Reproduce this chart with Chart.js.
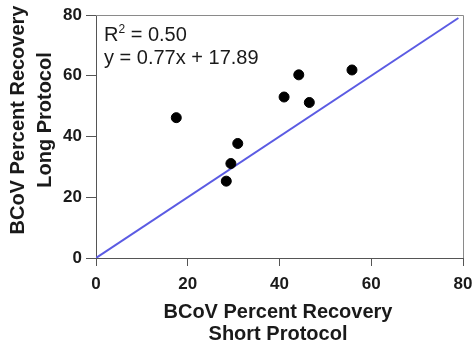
<!DOCTYPE html>
<html><head><meta charset="utf-8">
<script src="https://cdn.jsdelivr.net/npm/chart.js@4"></script>
<style>html,body{margin:0;padding:0;background:#fff}#wrap{width:473px;height:347px}</style>
</head><body><div id="wrap"><canvas id="c" width="473" height="347"></canvas></div>
<script>
const shortProtocol = [17.5, 28.4, 29.4, 30.9, 41.0, 44.2, 46.5, 55.8];
const longProtocol  = [46.2, 25.3, 31.1, 37.7, 53.0, 60.3, 51.2, 61.9];
const refLineX = [0, 79];
const refLineY = [0, 79];
const xTicks = [0, 20, 40, 60, 80];
const yTicks = [0, 20, 40, 60, 80];
const xTitle = ["BCoV Percent Recovery", "Short Protocol"];
const yTitle = ["BCoV Percent Recovery", "Long Protocol"];
const statLines = ["R", "2", " = 0.50", "y = 0.77x + 17.89"];

const FONT = "'Liberation Sans', Arial, sans-serif";
const extras = {
  id: 'extras',
  afterDraw(chart) {
    const ctx = chart.ctx, a = chart.chartArea;
    ctx.save();
    ctx.strokeStyle = '#8a8a8a'; ctx.lineWidth = 1;
    ctx.beginPath();
    ctx.moveTo(a.left, a.top + 0.5); ctx.lineTo(a.right + 0.5, a.top + 0.5); ctx.lineTo(a.right + 0.5, a.bottom);
    ctx.stroke();
    ctx.fillStyle = '#1a1a1a';
    ctx.font = '20px ' + FONT; ctx.textBaseline = 'alphabetic'; ctx.textAlign = 'left';
    let x = 104;
    ctx.fillText(statLines[0], x, 41); x += ctx.measureText(statLines[0]).width;
    ctx.font = '12px ' + FONT; ctx.fillText(statLines[1], x, 33); x += ctx.measureText(statLines[1]).width;
    ctx.font = '20px ' + FONT; ctx.fillText(statLines[2], x, 41);
    ctx.fillText(statLines[3], 104, 64);
    ctx.font = 'bold 20px ' + FONT; ctx.textAlign = 'center'; ctx.textBaseline = 'middle';
    ctx.fillText(xTitle[0], 278, 312);
    ctx.fillText(xTitle[1], 278, 334);
    ctx.save(); ctx.translate(18, 120); ctx.rotate(-Math.PI / 2);
    ctx.fillText(yTitle[0], 0, 0);
    ctx.fillText(yTitle[1], 0, 27);
    ctx.restore();
    ctx.restore();
  }
};

new Chart(document.getElementById('c'), {
  type: 'scatter',
  data: {
    datasets: [
      { type: 'line', data: refLineX.map((v, i) => ({ x: v, y: refLineY[i] })),
        borderColor: '#5b5be3', borderWidth: 2, pointRadius: 0, fill: false, order: 2 },
      { data: shortProtocol.map((v, i) => ({ x: v, y: longProtocol[i] })),
        backgroundColor: '#000', borderColor: '#000', pointRadius: 5, pointHoverRadius: 5, order: 1 }
    ]
  },
  options: {
    responsive: false, animation: false, events: [],
    layout: { padding: { left: 0, right: 1, top: 15, bottom: 0 } },
    plugins: { legend: { display: false }, tooltip: { enabled: false } },
    scales: {
      x: {
        type: 'linear', min: 0, max: 80,
        afterBuildTicks: s => { s.ticks = xTicks.map(v => ({ value: v })); },
        afterFit: s => { s.height = 89; s.paddingRight = 10; },
        grid: { drawOnChartArea: false, drawTicks: true, tickLength: 8, color: '#555' },
        border: { color: '#555', width: 1 },
        ticks: { color: '#1a1a1a', padding: 8, maxRotation: 0, font: { family: FONT, size: 17, weight: 'bold' } }
      },
      y: {
        type: 'linear', min: 0, max: 80,
        afterBuildTicks: s => { s.ticks = yTicks.map(v => ({ value: v })); },
        afterFit: s => { s.width = 96; },
        grid: { drawOnChartArea: false, drawTicks: true, tickLength: 10, color: '#555' },
        border: { color: '#555', width: 1 },
        ticks: { color: '#1a1a1a', padding: 4, font: { family: FONT, size: 17, weight: 'bold' } }
      }
    }
  },
  plugins: [extras]
});
</script></body></html>
